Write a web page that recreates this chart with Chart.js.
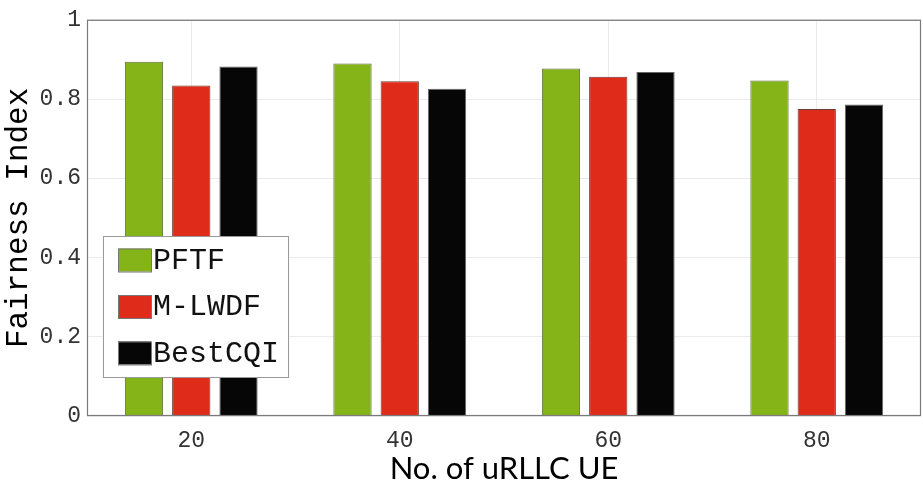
<!DOCTYPE html>
<html>
<head>
<meta charset="utf-8">
<script src="https://cdn.jsdelivr.net/npm/chart.js@4.4.1/dist/chart.umd.min.js"></script>
<style>
  html, body { margin: 0; padding: 0; background: #fff; }
  #wrap { width: 923px; height: 488px; }
</style>
</head>
<body>
<div id="wrap"><canvas id="graph_fairness"></canvas></div>
<script>
// data
const ueCounts = ['20', '40', '60', '80'];
const pftf = [0.894, 0.890, 0.877, 0.847];
const mlwdf = [0.834, 0.845, 0.856, 0.775];
const bestcqi = [0.882, 0.826, 0.868, 0.786];
const yTicks = [0, 0.2, 0.4, 0.6, 0.8, 1];

const mono = '"Courier New", "Liberation Mono", monospace';

// box around the axes + legend inside the plot (matlab style)
const boxAndLegend = {
	id: 'boxAndLegend',
	afterDatasetsDraw(chart) {
		const c = chart.ctx;
		const a = chart.chartArea;
		c.save();
		c.strokeStyle = '#7a7a7a';
		c.lineWidth = 1.2;
		c.strokeRect(a.left + 0.5, a.top + 0.5, a.right - a.left - 1, a.bottom - a.top - 1);

		// legend
		const lx = a.left + 16, ly = a.bottom - 180, lw = 185, lh = 141;
		c.fillStyle = '#fff';
		c.fillRect(lx, ly, lw, lh);
		c.strokeStyle = '#9a9a9a';
		c.lineWidth = 1;
		c.strokeRect(lx + 0.5, ly + 0.5, lw, lh);
		c.font = '30px ' + mono;
		c.textBaseline = 'middle';
		chart.data.datasets.forEach(function (ds, i) {
			const cy = ly + 24 + i * 46.5;
			c.fillStyle = ds.backgroundColor;
			c.fillRect(lx + 15, cy - 11.5, 33, 23);
			c.strokeStyle = '#777';
			c.strokeRect(lx + 15.5, cy - 11, 33, 23);
			c.fillStyle = '#111';
			c.fillText(ds.label, lx + 50, cy + 1);
		});
		c.restore();
	}
};

const ctx = document.getElementById('graph_fairness');
const chart = new Chart(ctx, {
	type: 'bar',
	data: {
		labels: ueCounts,
		datasets: [
			{ label: 'PFTF', data: pftf, backgroundColor: '#84b418', borderColor: '#5d6b3a', borderWidth: 1 },
			{ label: 'M-LWDF', data: mlwdf, backgroundColor: '#de2b1a', borderColor: '#6b3a34', borderWidth: 1 },
			{ label: 'BestCQI', data: bestcqi, backgroundColor: '#060606', borderColor: '#666', borderWidth: 1 }
		]
	},
	options: {
		responsive: true,
		maintainAspectRatio: false,
		animation: false,
		layout: { padding: { top: 16, right: 2, left: 0, bottom: 0 } },
		datasets: { bar: { categoryPercentage: 0.68, barPercentage: 0.81 } },
		plugins: {
			legend: { display: false },
			tooltip: { enabled: false }
		},
		scales: {
			x: {
				offset: true,
				grid: { color: '#ebebeb', drawTicks: false, offset: false },
				border: { display: false },
				ticks: { color: '#333', font: { family: mono, size: 23 }, padding: 11 },
				title: {
					display: true,
					text: 'No. of uRLLC UE',
					color: '#000',
					font: { family: 'Lato, "Open Sans", sans-serif', size: 31 },
					padding: { top: 5, bottom: 0 }
				},
				afterFit(scale) { scale.height = 72; }
			},
			y: {
				min: 0,
				max: 1,
				afterBuildTicks(scale) { scale.ticks = yTicks.map(v => ({ value: v })); },
				grid: { color: '#ebebeb', drawTicks: false },
				border: { display: false },
				ticks: {
					color: '#333',
					font: { family: mono, size: 23 },
					padding: 6,
					callback: v => String(v)
				},
				title: {
					display: true,
					text: 'Fairness Index',
					color: '#000',
					font: { family: mono, size: 31 },
					padding: { top: 0, bottom: 2 }
				},
				afterFit(scale) { scale.width = 87; }
			}
		}
	},
	plugins: [boxAndLegend]
});
</script>
</body>
</html>
